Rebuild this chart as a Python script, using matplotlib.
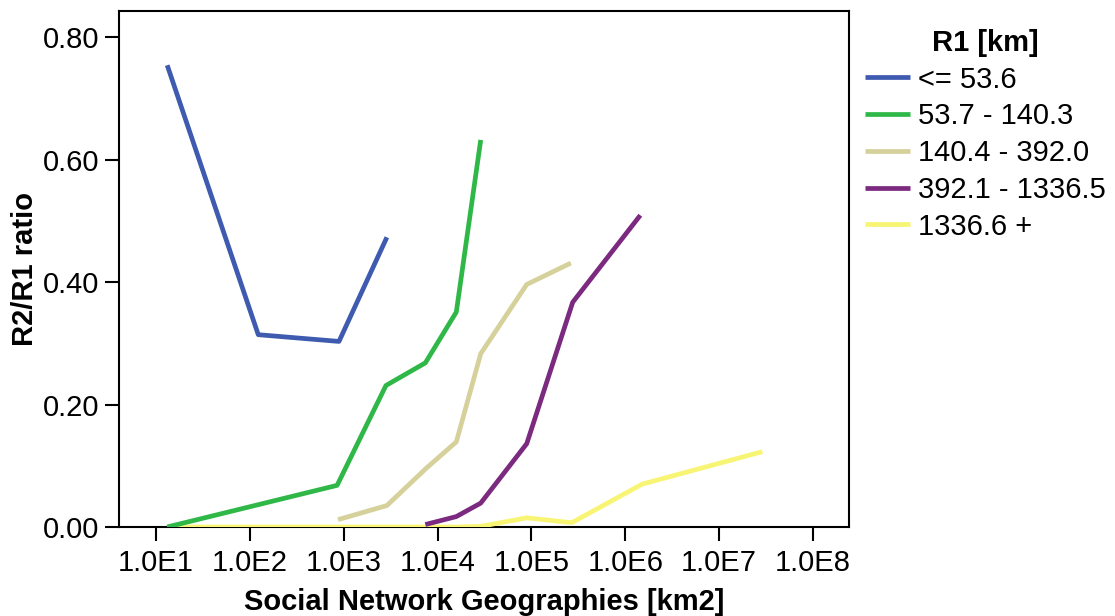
import numpy as np
import matplotlib
matplotlib.use("Agg")
import matplotlib.pyplot as plt
from matplotlib.ticker import FixedLocator, NullLocator

plt.rcParams['font.family'] = ['Liberation Sans', 'DejaVu Sans']

# R1 classes (km)
labels = ['<= 53.6', '53.7 - 140.3', '140.4 - 392.0', '392.1 - 1336.5', '1336.6 +']
colors = ['#3f5bb0', '#2fb848', '#d6d09a', '#7b2a80', '#f8f574']

# social network geographies [km2] (log10) and R2/R1 ratio
x_le53 = [1.12, 2.09, 2.95, 3.46]
y_le53 = [0.754, 0.314, 0.303, 0.473]

x_53_140 = [1.12, 2.93, 3.45, 3.87, 4.20, 4.46]
y_53_140 = [0.0, 0.068, 0.231, 0.268, 0.351, 0.632]

x_140_392 = [2.94, 3.46, 3.88, 4.20, 4.46, 4.95, 5.42]
y_140_392 = [0.012, 0.035, 0.096, 0.139, 0.283, 0.396, 0.431]

x_392_1336 = [3.87, 4.20, 4.46, 4.95, 5.44, 6.16]
y_392_1336 = [0.004, 0.017, 0.039, 0.136, 0.367, 0.509]

x_1336 = [1.12, 2.09, 2.95, 3.46, 3.87, 4.20, 4.46, 4.95, 5.43, 6.18, 7.46]
y_1336 = [0.0, 0.0, 0.0, 0.0, 0.0, 0.0, 0.001, 0.015, 0.007, 0.070, 0.123]

series = [(x_le53, y_le53), (x_53_140, y_53_140), (x_140_392, y_140_392),
          (x_392_1336, y_392_1336), (x_1336, y_1336)]

xticks = [1e1, 1e2, 1e3, 1e4, 1e5, 1e6, 1e7, 1e8]
xticklabels = ['1.0E1', '1.0E2', '1.0E3', '1.0E4', '1.0E5', '1.0E6', '1.0E7', '1.0E8']
yticks = [0.0, 0.2, 0.4, 0.6, 0.8]
yticklabels = ['0.00', '0.20', '0.40', '0.60', '0.80']

fig = plt.figure(figsize=(11.15, 6.16), dpi=100)
ax = fig.add_axes([0.1067, 0.1445, 0.6547, 0.8376])

# draw the top class first so the others sit above the flat yellow run
for i in reversed(range(len(series))):
    xs, ys = series[i]
    ax.plot(10 ** np.array(xs), ys, color=colors[i], lw=3.4, label=labels[i],
            solid_capstyle='butt', zorder=3 + (len(series) - i))

ax.set_xscale('log')
ax.set_xlim(10 ** 0.606, 10 ** 8.383)
ax.set_ylim(0, 0.8425)
ax.xaxis.set_major_locator(FixedLocator(xticks))
ax.xaxis.set_minor_locator(NullLocator())
ax.set_xticklabels(xticklabels)
ax.set_yticks(yticks)
ax.set_yticklabels(yticklabels)

for s in ax.spines.values():
    s.set_linewidth(1.5)
ax.tick_params(axis='both', direction='out', length=10, width=1.5, labelsize=21)
ax.tick_params(axis='x', pad=6)
ax.tick_params(axis='y', pad=4)

ax.set_xlabel('Social Network Geographies [km2]', fontsize=21, fontweight='bold', labelpad=8)
ax.set_ylabel('R2/R1 ratio', fontsize=21, fontweight='bold', labelpad=3)

handles, labs = ax.get_legend_handles_labels()
order = [labs.index(l) for l in labels]
leg = ax.legend([handles[k] for k in order], labels, title='R1 [km]',
                loc='upper left', bbox_to_anchor=(0.765, 0.972),
                bbox_transform=fig.transFigure, frameon=False, fontsize=21,
                handlelength=1.55, handletextpad=0.28, labelspacing=0.3,
                borderaxespad=0)
leg.get_title().set_fontweight('bold')
leg.get_title().set_fontsize(21)
for h in leg.get_lines():
    h.set_linewidth(3.4)

fig.savefig('out.png', dpi=100)
